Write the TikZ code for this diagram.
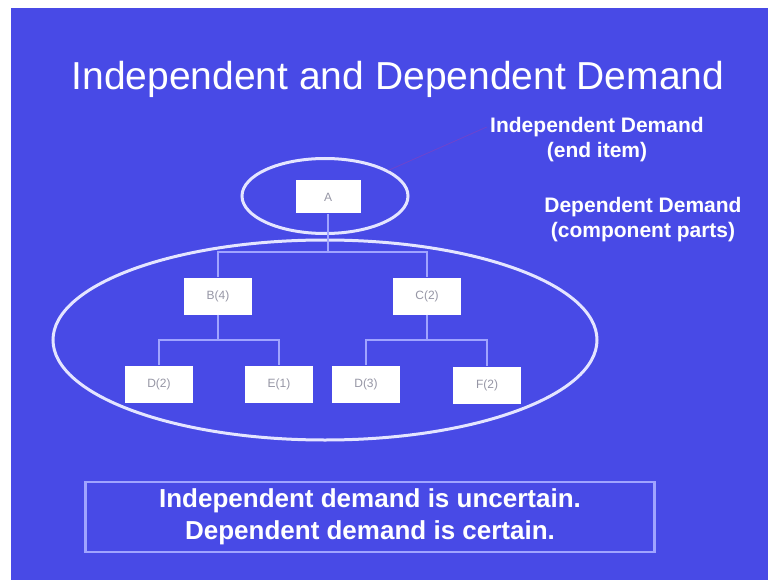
\documentclass[tikz,border=0pt]{standalone}
\usepackage{fontspec}
\setmainfont{Liberation Sans}
\usetikzlibrary{shapes.geometric}

\definecolor{slideblue}{RGB}{72,74,230}
\definecolor{ringwhite}{RGB}{228,229,255}
\definecolor{linkblue}{RGB}{160,164,255}
\definecolor{partgray}{RGB}{150,150,165}
\definecolor{pointer}{RGB}{110,68,205}

\begin{document}
\begin{tikzpicture}[x=1pt,y=-1pt,
    part/.style={fill=white,minimum width=68pt,minimum height=37pt,inner sep=0pt,
      text=partgray,font=\fontsize{12}{14}\selectfont},
    ring/.style={ellipse,draw=ringwhite,line width=3pt,inner sep=0pt},
    link/.style={draw=linkblue,line width=1.5pt},
    sidetext/.style={text=white,align=center,font=\bfseries\fontsize{21}{25}\selectfont}]
    % Slide
    \useasboundingbox (0,0) rectangle (768,580);
    \fill[white] (0,0) rectangle (768,580);
    \fill[slideblue] (11,8) rectangle (768,580);

    % Title
    \node[anchor=base,text=white,font=\fontsize{39}{44}\selectfont] (title) at (398,90)
      {Independent and Dependent Demand};

    % Side notes
    \node[sidetext] (indep) at (597,140) {Independent Demand\\(end item)};
    \node[sidetext] (dep) at (643,220) {Dependent Demand\\(component parts)};

    % Rings
    \node[ring,minimum width=166pt,minimum height=75pt] (topring) at (325,196) {};
    \node[ring,minimum width=544pt,minimum height=200pt] (lowring) at (325,340) {};
    \draw[pointer,line width=0.8pt] (topring.22) -- ([yshift=13pt]indep.west);

    % Parts
    \node[part,minimum width=65pt,minimum height=33pt] (A) at (328,197) {A};
    \node[part] (B) at (218,296) {B(4)};
    \node[part] (C) at (427,296) {C(2)};
    \node[part] (D2) at (159,384) {D(2)};
    \node[part] (E1) at (279,384) {E(1)};
    \node[part] (D3) at (366,384) {D(3)};
    \node[part] (F2) at (487,385) {F(2)};

    % Links
    \coordinate (busA) at (A |- 0,252);
    \coordinate (busB) at (B |- 0,340);
    \coordinate (busC) at (C |- 0,340);
    \draw[link] (A.south) -- (busA);
    \draw[link] (B.north) |- (busA) -| (C.north);
    \draw[link] (B.south) -- (busB);
    \draw[link] (D2.north) |- (busB) -| (E1.north);
    \draw[link] (C.south) -- (busC);
    \draw[link] (D3.north) |- (busC) -| (F2.north);

    % Summary
    \node[draw=linkblue,line width=2.5pt,minimum width=569pt,minimum height=70pt,
      text=white,align=center,font=\bfseries\fontsize{26}{32}\selectfont] (summary) at (370,517)
      {Independent demand is uncertain.\\Dependent demand is certain.};
\end{tikzpicture}
\end{document}
